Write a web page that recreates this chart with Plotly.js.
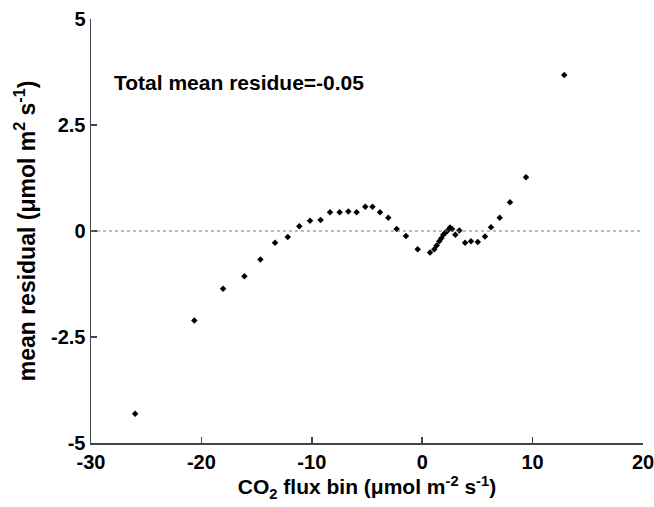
<!DOCTYPE html>
<html>
<head>
<meta charset="utf-8">
<script src="https://cdn.plot.ly/plotly-3.0.1.min.js"></script>
<style>html,body{margin:0;padding:0;background:#fff;}#chart{width:654px;height:507px;}</style>
</head>
<body>
<div id="chart"></div>
<script>
var fluxBin = [-26.0, -20.64, -18.04, -16.1, -14.66, -13.33, -12.18, -11.13, -10.16, -9.2, -8.35, -7.48, -6.69, -5.94, -5.15, -4.5, -3.82, -3.07, -2.31, -1.47, -0.41, 0.71, 1.1, 1.31, 1.55, 1.73, 1.91, 2.09, 2.27, 2.52, 2.7, 3.0, 3.36, 3.88, 4.42, 5.03, 5.69, 6.23, 7.02, 7.95, 9.4, 12.87];
var meanResidual = [-4.31, -2.11, -1.36, -1.07, -0.67, -0.28, -0.14, 0.11, 0.24, 0.26, 0.44, 0.44, 0.46, 0.44, 0.57, 0.57, 0.44, 0.31, 0.05, -0.12, -0.43, -0.51, -0.43, -0.34, -0.24, -0.17, -0.09, -0.04, 0.0, 0.08, 0.05, -0.09, 0.01, -0.28, -0.24, -0.26, -0.13, 0.09, 0.31, 0.68, 1.27, 3.68];
var xTicks = [-30, -20, -10, 0, 10, 20];
var yTicks = [-5, -2.5, 0, 2.5, 5];
var yTickText = ['-5', '-2.5', '0', '2.5', '5'];
var noteText = 'Total mean residue=-0.05';

var fontFam = 'Liberation Sans, Arial, sans-serif';
var trace = {
  x: fluxBin, y: meanResidual, type: 'scatter', mode: 'markers',
  marker: {symbol: 'diamond', size: 5, color: '#000'},
  hoverinfo: 'skip', cliponaxis: false
};
var layout = {
  width: 654, height: 507,
  margin: {l: 91, r: 11, t: 19, b: 64},
  paper_bgcolor: '#fff', plot_bgcolor: '#fff',
  showlegend: false,
  font: {family: fontFam, color: '#000'},
  xaxis: {
    range: [-30, 20], tickvals: xTicks, ticktext: xTicks.map(String),
    showgrid: false, zeroline: false, showline: true, linecolor: '#444', linewidth: 1.5,
    ticks: 'inside', ticklen: 6, tickcolor: '#444', tickwidth: 1.5,
    ticklabeloverflow: 'allow',
    tickfont: {size: 20, weight: 'bold', family: fontFam},
    title: {text: 'CO<sub>2</sub> flux bin (μmol m<sup>-2</sup> s<sup>-1</sup>)', font: {size: 21, weight: 'bold', family: fontFam}, standoff: 8}
  },
  yaxis: {
    range: [-5, 5], tickvals: yTicks, ticktext: yTickText,
    showgrid: false, zeroline: false, showline: true, linecolor: '#444', linewidth: 1.5,
    ticks: 'inside', ticklen: 6, tickcolor: '#444', tickwidth: 1.5,
    ticklabeloverflow: 'allow',
    tickfont: {size: 20, weight: 'bold', family: fontFam},
    title: {text: 'mean residual (μmol m<sup>2</sup> s<sup>-1</sup>)', font: {size: 23, weight: 'bold', family: fontFam}, standoff: 9}
  },
  shapes: [{type: 'line', xref: 'paper', yref: 'y', x0: 0, x1: 1, y0: 0, y1: 0,
    line: {color: '#777', width: 1.2, dash: 'dot'}}],
  annotations: [{xref: 'paper', yref: 'paper', x: 0.038, y: 0.851, xanchor: 'left', yanchor: 'middle',
    text: noteText, showarrow: false, font: {size: 21, weight: 'bold', family: fontFam}}]
};
Plotly.newPlot('chart', [trace], layout, {displayModeBar: false, staticPlot: true});
</script>
</body>
</html>
